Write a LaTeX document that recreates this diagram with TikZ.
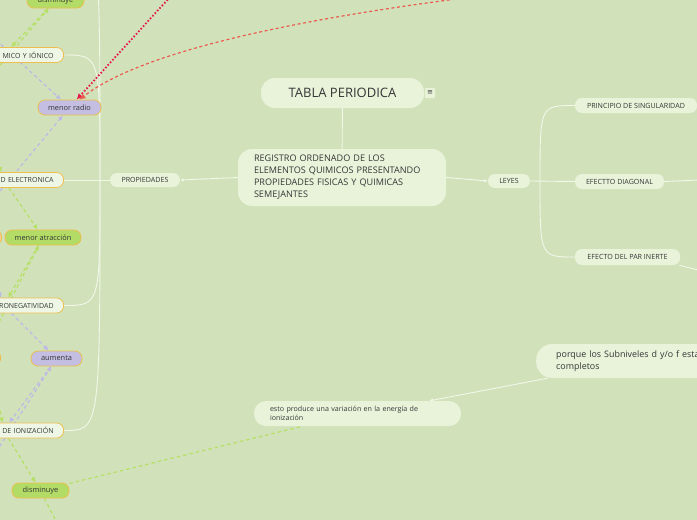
\documentclass[tikz,border=0pt]{standalone}
\usepackage{fontspec}
\setmainfont{Open Sans}
\newfontfamily\glyphfont{DejaVu Sans}
\usetikzlibrary{positioning}
\usetikzlibrary{calc}
\usetikzlibrary{arrows.meta}
\definecolor{bgsage}{HTML}{D1E2BB}
\definecolor{leaffill}{HTML}{E8F3DA}
\definecolor{propfill}{HTML}{EEF7E6}
\definecolor{propline}{HTML}{EDBE4E}
\definecolor{greenfill}{HTML}{B3DC66}
\definecolor{lilacfill}{HTML}{C3BEE2}
\definecolor{limeline}{HTML}{B5E063}
\definecolor{lilacline}{HTML}{BDB8E6}
\definecolor{crimsondot}{HTML}{E5194C}
\definecolor{coraldash}{HTML}{EC5B4F}
\definecolor{twig}{HTML}{F1F7E9}
\definecolor{inktext}{HTML}{363636}
\pgfdeclarelayer{canvas}
\pgfdeclarelayer{links}
\pgfsetlayers{canvas,links,main}

\begin{document}
\begin{tikzpicture}[x=1pt,y=-1pt,
        every node/.style={text=inktext, inner sep=0pt},
        topicbox/.style={fill=leaffill, rounded corners=14pt},
        leafbox/.style={fill=leaffill, rounded corners=7pt, minimum height=15pt,
            font=\fontsize{7.1}{8}\selectfont},
        markbox/.style={draw=propline, line width=0.8pt, rounded corners=7pt,
            minimum height=15pt, font=\fontsize{7.4}{8}\selectfont},
        propbox/.style={markbox, fill=propfill, text width=100pt, align=right,
            inner xsep=10pt, anchor=east, font=\fontsize{7}{8}\selectfont},
        greenbox/.style={markbox, fill=greenfill},
        lilacbox/.style={markbox, fill=lilacfill},
        twiglink/.style={draw=twig, line width=0.9pt},
        twigarrow/.style={twiglink, -{Latex[length=3.5pt,width=3.5pt]}},
        limelink/.style={draw=limeline, line width=1.2pt, dash pattern=on 3.5pt off 3pt,
            -{Latex[length=5pt,width=5pt]}},
        lilaclink/.style={draw=lilacline, line width=1.2pt, dash pattern=on 3.5pt off 3pt,
            -{Latex[length=5pt,width=5pt]}}]
    \useasboundingbox (0,0) rectangle (697,520);
    \begin{pgfonlayer}{canvas}
        \fill[bgsage] (0,0) rectangle (697,520);
    \end{pgfonlayer}
    \clip (0,0) rectangle (697,520);

    % central topic
    \node[topicbox, minimum width=163pt, minimum height=30pt,
          font=\fontsize{13}{14}\selectfont] (tabla) at (342.5,93) {TABLA PERIODICA};
    \node[fill=leaffill, minimum size=10pt, rounded corners=1pt,
          font=\glyphfont\fontsize{7}{7}\selectfont] (notes) at (430,93) {≡};
    \node[topicbox, minimum width=208pt, minimum height=57pt, text width=176pt,
          align=left, inner xsep=16pt, font=\fontsize{9.1}{12}\selectfont]
          (registro) at (342,177.5)
          {REGISTRO ORDENADO DE LOS\\ELEMENTOS QUIMICOS PRESENTANDO\\PROPIEDADES FISICAS Y QUIMICAS\\SEMEJANTES};

    % main branches
    \node[leafbox, minimum width=70pt, minimum height=14pt] (propiedades) at (145,180) {PROPIEDADES};
    \node[leafbox, minimum width=42pt, minimum height=14pt] (leyes) at (509,181) {LEYES};
    \node[leafbox, minimum width=122pt] (principio) at (636,105.5) {PRINCIPIO DE SINGULARIDAD};
    \node[leafbox, minimum width=89pt] (diagonal) at (619.5,181.5) {EFECTTO DIAGONAL};
    \node[leafbox, minimum width=105pt, minimum height=16pt] (parinerte) at (627.5,257) {EFECTO DEL PAR INERTE};
    \node[topicbox, rounded corners=16pt, minimum height=34pt, text width=200pt, align=left,
          inner xsep=20pt, anchor=west, font=\fontsize{8.9}{12}\selectfont]
          (porque) at (536,361) {porque los Subniveles d y/o f esta\\completos};
    \node[topicbox, rounded corners=12pt, minimum height=25pt, text width=175pt, align=left,
          inner xsep=16pt, font=\fontsize{7.1}{9}\selectfont]
          (esto) at (357.5,413.5) {esto produce una variación en la energía de\\ionización};

    % properties on the left edge
    \node[propbox] (radio) at (64,55) {MICO Y IÓNICO};
    \node[propbox] (afinidad) at (64,180) {D ELECTRONICA};
    \node[propbox] (electro) at (64,305.5) {RONEGATIVIDAD};
    \node[propbox] (energia) at (64,430.5) {DE IONIZACIÓN};
    \node[greenbox, minimum width=57pt] (dimtop) at (55.5,0.5) {disminuye};
    \node[lilacbox, minimum width=63pt] (menorradio) at (69.5,107.5) {menor radio};
    \node[greenbox, minimum width=76pt] (menoratr) at (43,237.5) {menor atracción};
    \node[lilacbox, minimum width=51pt] (aumenta) at (56.5,358.5) {aumenta};
    \node[greenbox, minimum width=57pt] (dimbot) at (40.5,490.5) {disminuye};
    \node[markbox, fill=orange!35!propfill, minimum width=30pt, anchor=east] (peach) at (2,237.5) {};
    \node[markbox, fill=greenfill!60!propline, minimum width=30pt, anchor=east] (amber) at (1,358) {};

    % loose ends outside the frame
    \coordinate (prophub) at (100,180);
    \coordinate (lawhub) at (540,181);
    \coordinate (offtop) at (64,-70);
    \coordinate (offdiag) at (700,180);
    \coordinate (offpar) at (700,270.5);
    \coordinate (offa) at (-4,70);
    \coordinate (offb) at (-4,40);
    \coordinate (offc) at (-4,196);
    \coordinate (offd) at (-4,155);
    \coordinate (offe) at (-4,328);
    \coordinate (offf) at (-4,282);
    \coordinate (offg) at (-4,452);
    \coordinate (offh) at (-4,385);
    \coordinate (offi) at (58,525);
    \coordinate (offred) at (170,-3);
    \coordinate (offcoral) at (472,-3);

    \begin{pgfonlayer}{links}
        \draw[twiglink] (tabla) -- (registro);
        \draw[twigarrow] (registro.west) -- (propiedades.east);
        \draw[twigarrow] (registro.east) -- (leyes.west);
        \draw[twiglink] (leyes.east) -- (diagonal.west);
        \draw[twiglink] (lawhub) .. controls (540,105.5) .. (principio.west);
        \draw[twiglink] (lawhub) .. controls (540,257) .. (parinerte.west);
        \draw[twiglink] (diagonal.east) -- (offdiag);
        \draw[twiglink] (parinerte.-9) -- (offpar);
        \draw[twigarrow] (porque.189.3) -- (esto.10.2);
        \draw[twiglink] (propiedades.west) -- (afinidad.east);
        \draw[twiglink] (prophub) .. controls (100,-70) .. (offtop);
        \draw[twiglink] (prophub) .. controls (100,55) .. (radio.east);
        \draw[twiglink] (prophub) .. controls (100,305.5) .. (electro.east);
        \draw[twiglink] (prophub) .. controls (100,430.5) .. (energia.east);

        \draw[limelink] (offa) -- (dimtop);
        \draw[limelink] (dimtop) -- (radio);
        \draw[lilaclink] (offb) -- (menorradio);
        \draw[lilaclink] (offc) -- (menorradio);
        \draw[limelink] (offd) -- (afinidad);
        \draw[limelink] (afinidad) -- (menoratr);
        \draw[limelink] (offe) -- (menoratr);
        \draw[limelink] (menoratr) -- (electro);
        \draw[lilaclink] (offf) -- (electro);
        \draw[lilaclink] (electro) -- (aumenta);
        \draw[lilaclink] (offg) -- (aumenta);
        \draw[lilaclink] (aumenta) -- (energia);
        \draw[limelink] (offh) -- (energia);
        \draw[limelink] (energia) -- (dimbot);
        \draw[limelink, -] (dimbot) -- (offi);
        \draw[limelink, -] (dimbot) -- (esto.193.4);
        \draw[draw=crimsondot, line width=1.8pt, dash pattern=on 1.6pt off 1.9pt,
              -{Latex[length=6pt,width=6pt]}] (offred) -- (menorradio);
        \draw[draw=coraldash, line width=1.2pt, dash pattern=on 3pt off 2.6pt,
              -{Latex[length=6pt,width=6pt]}] (offcoral) .. controls (250,25) and (130,60) .. (menorradio);
    \end{pgfonlayer}
\end{tikzpicture}
\end{document}
